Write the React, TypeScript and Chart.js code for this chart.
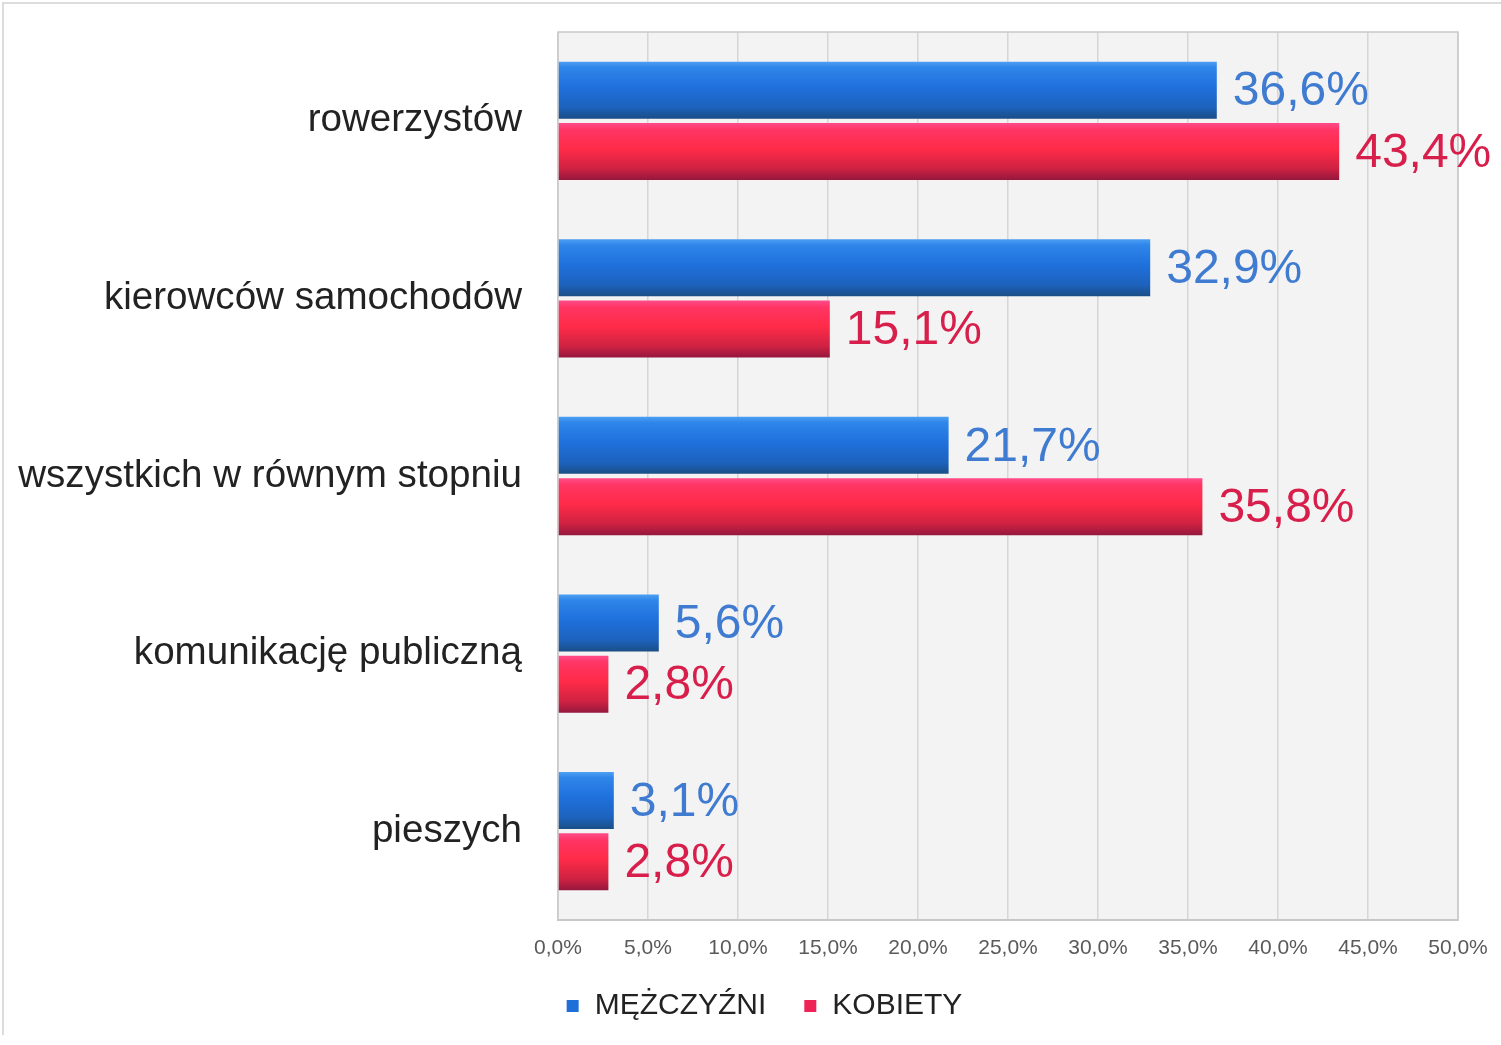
import React, { useEffect, useRef } from "react";
import { Chart, registerables } from "chart.js";

Chart.register(...registerables);

const categories = [
  "rowerzystów",
  "kierowców samochodów",
  "wszystkich w równym stopniu",
  "komunikację publiczną",
  "pieszych",
];
const seriesLabels = ["MĘŻCZYŹNI", "KOBIETY"];
const menValues = [36.6, 32.9, 21.7, 5.6, 3.1];
const womenValues = [43.4, 15.1, 35.8, 2.8, 2.8];
const xMin = 0;
const xMax = 50;
const xStep = 5;

const solidColors = ["#1f6fd8", "#ee2458"];
const labelColors = ["#3f7bd0", "#d81f4b"];
const gradientStops = [
  [
    [0, "#4d9ff2"],
    [0.1, "#2f86ea"],
    [0.45, "#1f70dc"],
    [0.8, "#1d62bd"],
    [1, "#1a4e86"],
  ],
  [
    [0, "#ff4c8a"],
    [0.12, "#ff3564"],
    [0.45, "#ff2b48"],
    [0.8, "#cf2242"],
    [1, "#95173d"],
  ],
];

const fmt = (v: number) => v.toFixed(1).replace(".", ",") + "%";

const bgPlugin = {
  id: "bgPlugin",
  beforeDraw(chart: any) {
    const { ctx, chartArea } = chart;
    const { left, top, right, bottom } = chartArea;
    ctx.save();
    ctx.fillStyle = "#ffffff";
    ctx.fillRect(0, 0, chart.width, chart.height);
    ctx.strokeStyle = "#dcdcdc";
    ctx.lineWidth = 2;
    ctx.beginPath();
    ctx.moveTo(3, chart.height - 10);
    ctx.lineTo(3, 3);
    ctx.lineTo(chart.width, 3);
    ctx.stroke();
    ctx.fillStyle = "#f3f3f3";
    ctx.fillRect(left, top, right - left, bottom - top);
    ctx.restore();
  },
  beforeDatasetsDraw(chart: any) {
    const { ctx, chartArea } = chart;
    const { left, top, right, bottom } = chartArea;
    ctx.save();
    ctx.strokeStyle = "#c9c9c9";
    ctx.lineWidth = 1.5;
    ctx.strokeRect(left, top, right - left, bottom - top);
    ctx.restore();
    chart.data.datasets.forEach((ds: any, di: number) => {
      const meta = chart.getDatasetMeta(di);
      meta.data.forEach((el: any) => {
        const { y, height } = el.getProps(["y", "height"], true);
        const g = ctx.createLinearGradient(0, y - height / 2, 0, y + height / 2);
        gradientStops[di].forEach(([o, c]: any) => g.addColorStop(o, c));
        el.options = Object.assign({}, el.options, { backgroundColor: g });
      });
    });
  },
  afterDatasetsDraw(chart: any) {
    const { ctx } = chart;
    ctx.save();
    ctx.font = '48px "Liberation Sans", Arial, sans-serif';
    ctx.textAlign = "left";
    ctx.textBaseline = "middle";
    chart.data.datasets.forEach((ds: any, di: number) => {
      const meta = chart.getDatasetMeta(di);
      ctx.fillStyle = labelColors[di];
      meta.data.forEach((el: any, i: number) => {
        const { x, y } = el.getProps(["x", "y"], true);
        ctx.fillText(fmt(ds.data[i]), x + 16, y + 2);
      });
    });
    ctx.restore();
  },
  afterDraw(chart: any) {
    const { ctx } = chart;
    ctx.save();
    ctx.font = '30px "Liberation Sans", Arial, sans-serif';
    ctx.textBaseline = "middle";
    ctx.textAlign = "left";
    const box = 12;
    const gapBox = 16;
    const gapItem = 38;
    const widths = seriesLabels.map((t) => box + gapBox + ctx.measureText(t).width);
    const total = widths.reduce((a, b) => a + b, 0) + gapItem * (widths.length - 1);
    let x = chart.width / 2 + 14 - total / 2;
    const yc = 1006;
    seriesLabels.forEach((t, i) => {
      ctx.fillStyle = solidColors[i];
      ctx.fillRect(x, yc - box / 2, box, box);
      ctx.fillStyle = "#222222";
      ctx.fillText(t, x + box + gapBox, yc);
      x += widths[i] + gapItem;
    });
    ctx.restore();
  },
};

export default function App() {
  const ref = useRef<HTMLCanvasElement | null>(null);
  useEffect(() => {
    if (!ref.current) return;
    const chart = new Chart(ref.current, {
      type: "bar",
      data: {
        labels: categories,
        datasets: [
          { label: seriesLabels[0], data: menValues, backgroundColor: solidColors[0], borderWidth: 0 },
          { label: seriesLabels[1], data: womenValues, backgroundColor: solidColors[1], borderWidth: 0 },
        ],
      },
      options: {
        indexAxis: "y",
        animation: false,
        responsive: false,
        maintainAspectRatio: false,
        categoryPercentage: 0.69,
        barPercentage: 0.93,
        layout: { padding: { left: 0, right: 43, top: 32, bottom: 65 } },
        plugins: {
          legend: { display: false },
          tooltip: { enabled: false },
        },
        scales: {
          x: {
            min: xMin,
            max: xMax,
            ticks: {
              stepSize: xStep,
              padding: 16,
              color: "#5a5a5a",
              font: { family: '"Liberation Sans", Arial, sans-serif', size: 21 },
              callback: (v: any) => fmt(Number(v)),
            },
            grid: { color: "#d6d6d6", lineWidth: 1.5, drawTicks: false },
            border: { display: true, color: "#c4c4c4", width: 2 },
            afterFit: (s: any) => {
              s.height = 60;
              s.paddingLeft = 0;
              s.paddingRight = 0;
            },
          },
          y: {
            ticks: {
              padding: 36,
              color: "#222222",
              font: { family: '"Liberation Sans", Arial, sans-serif', size: 38.6 },
            },
            grid: { display: false, drawTicks: false },
            border: { display: false },
            afterFit: (s: any) => {
              s.width = 558;
              s.paddingTop = 0;
              s.paddingBottom = 0;
            },
          },
        },
      },
      plugins: [bgPlugin],
    });
    return () => chart.destroy();
  }, []);
  return (
    <div style={{ position: "fixed", left: 0, top: 0, width: 1501, height: 1045, background: "#fff" }}>
      <canvas ref={ref} width={1501} height={1045} style={{ width: 1501, height: 1045 }} />
    </div>
  );
}
